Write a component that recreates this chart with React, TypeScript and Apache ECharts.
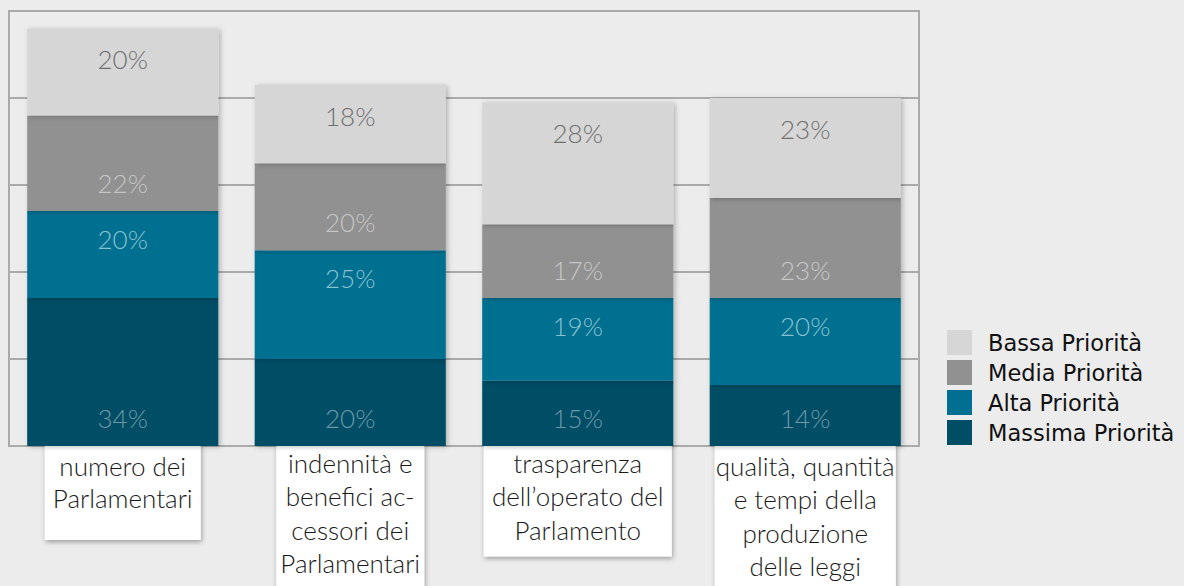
import React, { useEffect, useRef } from "react";
import * as echarts from "echarts";

const categories = [
  "numero dei\nParlamentari",
  "indennità e\nbenefici ac-\ncessori dei\nParlamentari",
  "trasparenza\ndell’operato del\nParlamento",
  "qualità, quantità\ne tempi della\nproduzione\ndelle leggi",
];
const seriesNames = ["Massima Priorità", "Alta Priorità", "Media Priorità", "Bassa Priorità"];
const massima = [34, 20, 15, 14];
const alta = [20, 25, 19, 20];
const media = [22, 20, 17, 23];
const bassa = [20, 18, 28, 23];
const legendOrder = ["Bassa Priorità", "Media Priorità", "Alta Priorità", "Massima Priorità"];

const colors = ["#004d66", "#006f91", "#919191", "#d6d6d6"];
const labelColors = ["#6e98a8", "#8bc0d0", "#c6c6c6", "#6f6f6f"];
const labelPos = ["insideBottom", "insideTop", "insideBottom", "insideTop"];
const labelDist = [15, 15, 15, 18];
const boxStyles = [
  { width: 148, height: 83, padding: [7, 4, 7, 4], lineHeight: 32 },
  { width: 142, padding: [3, 3, 8, 3], lineHeight: 33.5 },
  { width: 184, padding: [3, 2, 10, 2], lineHeight: 33.5 },
  { width: 179, padding: [6, 1, 8, 1], lineHeight: 33.5 },
];

export default function App() {
  const ref = useRef<HTMLDivElement>(null);
  useEffect(() => {
    if (!ref.current) return;
    const chart = echarts.init(ref.current, null, { renderer: "svg" });
    const values = [massima, alta, media, bassa];
    chart.setOption({
      animation: false,
      backgroundColor: "#ececec",
      grid: {
        left: 9,
        right: 265,
        top: 11,
        bottom: 140,
        show: true,
        borderColor: "#aaaaaa",
        borderWidth: 2,
        containLabel: false,
        outerBoundsMode: "none",
      },
      legend: {
        data: legendOrder,
        orient: "vertical",
        left: 942,
        top: 325,
        itemWidth: 25,
        itemHeight: 25,
        itemGap: 5,
        icon: "rect",
        itemStyle: { shadowBlur: 0, shadowOffsetX: 0, shadowOffsetY: 0 },
        textStyle: {
          fontFamily: "DejaVu Sans",
          fontSize: 22.5,
          color: "#111111",
          padding: [0, 0, 0, 11],
        },
      },
      xAxis: {
        type: "category",
        data: categories.map((c, i) => ({ value: c, textStyle: boxStyles[i] })),
        axisLine: { show: false },
        axisTick: { show: false },
        axisLabel: {
          interval: 0,
          margin: -3,
          fontFamily: "Lato",
          fontWeight: 300,
          fontSize: 26,
          color: "#1a1a1a",
          align: "center",
          backgroundColor: "#ffffff",
          shadowBlur: 5,
          shadowColor: "rgba(0,0,0,0.35)",
          shadowOffsetX: 1,
          shadowOffsetY: 2,
        },
      },
      yAxis: {
        type: "value",
        min: 0,
        max: 100,
        interval: 20,
        axisLabel: { show: false },
        axisLine: { show: false },
        axisTick: { show: false },
        splitLine: { lineStyle: { color: "#aaaaaa", width: 2 } },
      },
      series: seriesNames.map((name, i) => ({
        name,
        type: "bar",
        stack: "total",
        barWidth: "84%",
        data: values[i],
        itemStyle: {
          color: colors[i],
          shadowBlur: 5,
          shadowColor: "rgba(0,0,0,0.25)",
          shadowOffsetX: 2,
          shadowOffsetY: 1,
        },
        label: {
          show: true,
          position: labelPos[i],
          distance: labelDist[i],
          formatter: "{c}%",
          fontFamily: "Lato",
          fontWeight: 300,
          fontSize: 26,
          color: labelColors[i],
        },
      })),
    });
    return () => chart.dispose();
  }, []);
  return (
    <div
      ref={ref}
      style={{ position: "fixed", left: 0, top: 0, width: 1184, height: 586 }}
    />
  );
}
